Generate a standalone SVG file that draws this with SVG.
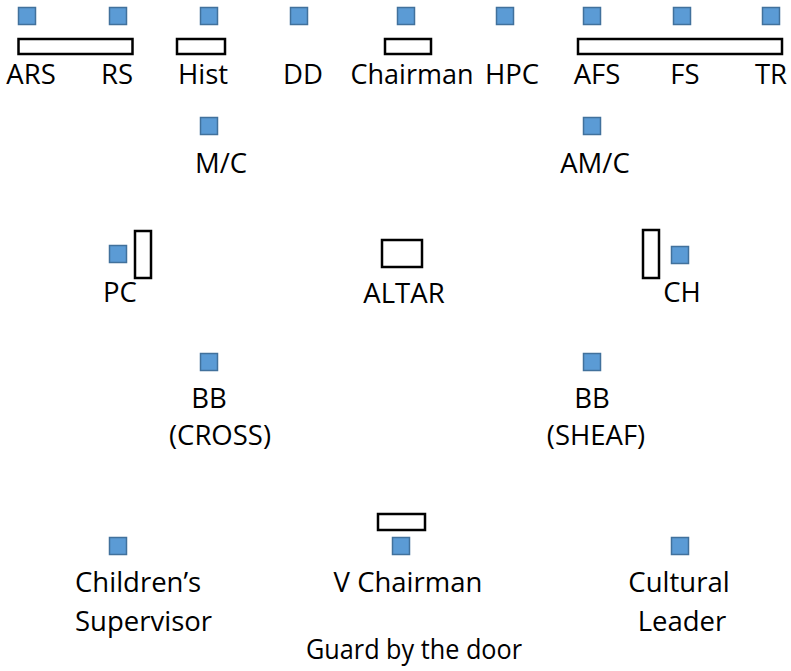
<svg xmlns="http://www.w3.org/2000/svg" width="791" height="671" viewBox="0 0 791 671">
<style>
.s{fill:#5B9BD5;stroke:#41719C;stroke-width:1.5}
.r{fill:#fff;stroke:#000;stroke-width:2.5}
text{font-family:"Open Sans","Noto Sans","Liberation Sans",sans-serif;font-size:27.5px;fill:#000;text-anchor:middle}
.l{text-anchor:start}
</style>
<rect width="791" height="671" fill="#fff"/>
<g id="tables">
<rect class="r" x="18.5" y="39" width="114" height="15"/>
<rect class="r" x="177" y="39" width="48" height="15"/>
<rect class="r" x="385" y="39" width="46" height="15"/>
<rect class="r" x="578" y="39" width="204" height="15"/>
<rect class="r" x="135" y="231" width="16" height="47"/>
<rect class="r" x="643" y="230" width="16" height="48"/>
<rect id="altar-table" class="r" x="382" y="240" width="40" height="27"/>
<rect class="r" x="378" y="514" width="47" height="16"/>
</g>
<g id="ARS"><rect class="s" x="18.5" y="7.5" width="17" height="17"/><text x="31" y="84">ARS</text></g>
<g id="RS"><rect class="s" x="109.5" y="7.5" width="17" height="17"/><text x="117" y="84">RS</text></g>
<g id="Hist"><rect class="s" x="200.5" y="7.5" width="17" height="17"/><text x="203" y="84">Hist</text></g>
<g id="DD"><rect class="s" x="290.5" y="7.5" width="17" height="17"/><text x="303" y="84">DD</text></g>
<g id="Chairman"><rect class="s" x="397.5" y="7.5" width="17" height="17"/><text x="412" y="84" textLength="123" lengthAdjust="spacingAndGlyphs">Chairman</text></g>
<g id="HPC"><rect class="s" x="496.5" y="7.5" width="17" height="17"/><text x="512" y="84">HPC</text></g>
<g id="AFS"><rect class="s" x="583.5" y="7.5" width="17" height="17"/><text x="597" y="84">AFS</text></g>
<g id="FS"><rect class="s" x="673.5" y="7.5" width="17" height="17"/><text x="685" y="84">FS</text></g>
<g id="TR"><rect class="s" x="762.5" y="7.5" width="17" height="17"/><text x="771" y="84">TR</text></g>
<g id="MC"><rect class="s" x="200.5" y="117.5" width="17" height="17"/><text x="221" y="173">M/C</text></g>
<g id="AMC"><rect class="s" x="583.5" y="117.5" width="17" height="17"/><text x="595" y="173">AM/C</text></g>
<g id="PC"><rect class="s" x="109.5" y="245.5" width="17" height="17"/><text x="120" y="302">PC</text></g>
<g id="ALTAR"><text x="404" y="303">ALTAR</text></g>
<g id="CH"><rect class="s" x="671.5" y="246.5" width="17" height="17"/><text x="682" y="302">CH</text></g>
<g id="BB-cross"><rect class="s" x="200.5" y="353.5" width="17" height="17"/><text x="209" y="408">BB</text><text x="220" y="445">(CROSS)</text></g>
<g id="BB-sheaf"><rect class="s" x="583.5" y="353.5" width="17" height="17"/><text x="592" y="408">BB</text><text x="596" y="445">(SHEAF)</text></g>
<g id="Childrens"><rect class="s" x="109.5" y="537.5" width="17" height="17"/><text class="l" x="75" y="592">Children’s</text><text class="l" x="75" y="631">Supervisor</text></g>
<g id="VChairman"><rect class="s" x="392.5" y="537.5" width="17" height="17"/><text x="408" y="592">V Chairman</text></g>
<g id="Cultural"><rect class="s" x="671.5" y="537.5" width="17" height="17"/><text x="679" y="592">Cultural</text><text x="682" y="631">Leader</text></g>
<g id="Guard"><text x="414" y="659" textLength="216" lengthAdjust="spacingAndGlyphs">Guard by the door</text></g>
</svg>
